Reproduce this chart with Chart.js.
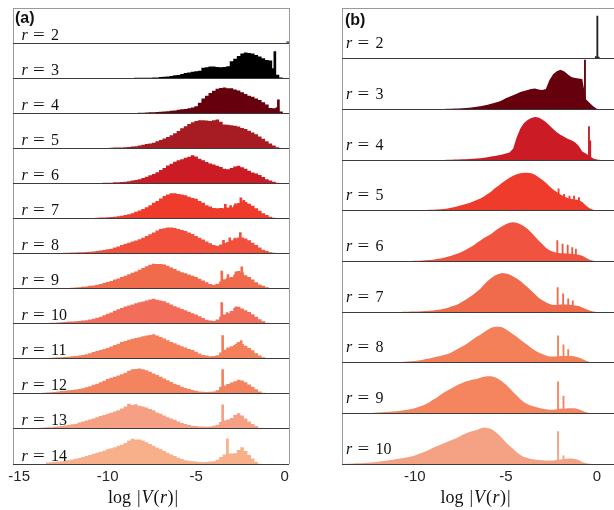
<!DOCTYPE html>
<html>
<head>
<meta charset="utf-8">
<script src="https://cdn.jsdelivr.net/npm/chart.js@4.4.1/dist/chart.umd.min.js"></script>
<style>
  html, body { margin: 0; padding: 0; background: #fff; }
  #wrap { position: relative; width: 614px; height: 510px; overflow: hidden; }
  canvas { position: absolute; top: 0; }
  #ca { left: 0; }
  #cb { left: 320px; }
</style>
</head>
<body>
<div id="wrap">
  <canvas id="ca" width="300" height="510"></canvas>
  <canvas id="cb" width="310" height="510"></canvas>
</div>
<script>
// ---------- Panel (a): histograms of log|V(r)|, bins of 0.2, heights in % of row ----------
const aRows   = [2, 3, 4, 5, 6, 7, 8, 9, 10, 11, 12, 13, 14];
const aStarts = [0, -9.0, -9.0, -10.4, -11.0, -11.2, -14.4, -13.6, -14.6, -14.6, -14.6, -14.6, -13.4];
const aTicks  = [-15, -10, -5, 0];
const aColors = ['#4a4aa8', '#000000', '#67000d', '#a61c22', '#cb1c26', '#ef3b2c', '#f0503c',
                 '#f06a4c', '#f26e5a', '#f47f5b', '#f4845f', '#f5a084', '#f8b08b'];

const aR2  = [];
const aR3  = [0,0.3,0.5,0.5,0.8,1,1,1.2,1.5,2, 2,3,4,5,6,8,9,12,15,16, 18,20,21,30,31,33,33,32,31,32,
              34,48,55,63,70,73,72,70,66,62, 57,52,50,28,10,2];
const aR4  = [0,0.3,0.5,0.7,1,1.2,1.5,2,2.5,3, 3.5,4,5,6,7,8,10,11,12,14, 16,20,30,42,50,58,64,70,72,73,
              71,71,68,65,60,55,50,47,42,38, 31,25,15,14,17,5];
const aR5  = [0,0.5,1,1,1.5,2,2,2.5,3,4, 5,6,8,10,12,14,16,20,24,28, 32,37,43,49,57,63,69,74,78,80,
              80,79,78,80,82,76,68,67,66,64, 62,58,55,50,45,40,34,27,20,14, 8,3,1];
const aR6  = [0,0.3,0.5,1,1,1.5,2,2,3,3.5, 4,5,6,8,10,12,15,19,23,27, 32,38,44,51,56,62,66,69,73,76,
              80,77,70,66,61,57,54,50,47,42, 40,44,48,50,46,42,36,31,28,24, 18,12,8,5,2,0.5];
const aR7  = [0,0.5,1,1.5,2,2.5,3,3.5,4,5, 6,8,10,12,15,19,23,27,32,38, 45,50,57,64,68,72,72,70,68,66,
              62,58,56,50,45,38,34,30,29,30, 29,31,32,38,44,48,47,42,36,29, 22,15,10,5,2,0.5];
const aR8  = [0,0.3,0.5,0.5,0.7,0.8,1,1,1.2,1.5, 1.8,2,2.5,2.8,3,3.5,4,4.5,5,6, 7,8.5,10,12,14,17,20,24,28,31,
              34,37,41,45,50,55,60,66,70,72, 74,74,73,70,67,64,60,56,50,45, 40,34,29,24,22,26,30,33,38,42,
              46,46,43,38,31,24,17,11,7,4, 2,0.5];
const aR9  = [0,0.3,0.5,0.7,1,1,1.3,1.5,2,2.5, 3,4,5,6,8,9,11,13,16,19, 22,26,29,33,37,41,45,49,54,59,
              64,68,71,70,70,69,65,60,56,51, 47,44,40,37,33,28,23,18,13,11, 14,20,27,30,33,40,50,46,38,33,
              26,18,12,8,4,1.5,0.5];
const aR10 = [0,0.3,0.5,0.7,1,1.2,1.5,2,2.5,3, 3.5,4,5,6,6.5,7,8,9,10,12, 14,17,20,24,28,32,37,41,45,49,
              52,55,58,61,63,66,69,71,68,66, 64,60,55,50,46,42,38,34,30,26, 21,16,11,9,8,12,20,26,30,36,
              45,48,43,38,33,27,20,13,7,3, 1,0.3];
const aR11 = [0,0.5,0.7,1,1.2,1.5,2,2.5,3,3.5, 4,4.5,5,6,7,8,9.5,11,13,16, 19,22,25,28,31,35,39,43,48,51,
              54,57,59,61,64,66,68,70,66,62, 58,53,48,44,40,36,32,28,25,20, 15,11,9,7,8,10,18,26,32,36,
              40,48,42,37,31,24,16,9,4,1.5, 0.5];
const aR12 = [0,0.5,1,1.5,2,2.5,3,3.5,4.5,5.5, 6.5,8,9,10,11,12.5,14,16,19,22, 26,29,33,37,42,46,49,52,56,60,
              66,70,71,72,70,67,63,58,54,49, 44,39,34,29,25,20,17,14,11,9, 7,6,5,6,7,10,20,24,28,32,
              36,40,38,33,27,20,13,7,3,1, 0.3];
const aR13 = [0,0.5,1,2,2.5,3,4,4.5,5,6, 7,8,9.5,11,13,15,18,21,24,27, 30,33,37,40,43,46,50,53,58,64,
              72,68,70,66,64,61,57,53,47,43, 38,33,30,26,21,17,14,11,9,8, 7,7,6,7,9,12,20,24,27,31,
              40,45,38,30,21,14,8,3,1];
const aR14 = [0,4,5,6,7,8,10,11,13,15, 17,20,23,26,29,32,35,38,42,45, 48,52,55,60,67,72,70,70,67,62,
              57,52,47,42,37,32,27,23,18,14, 11,9,8,7,6,5,6,7,8,12, 20,27,30,30,31,40,48,37,26,16,
              6,1];

// narrow spikes: [log|V|, height]
const aS2  = [[0.18, 4]];
const aS3  = [[-0.55, 76]];
const aS4  = [[-0.35, 38]];
const aS5  = [];
const aS6  = [];
const aS7  = [[-3.35, 40], [-3.05, 37], [-2.78, 42], [-2.47, 59], [-2.3, 52]];
const aS8  = [[-3.45, 38], [-3.1, 45], [-2.8, 44], [-2.5, 60]];
const aS9  = [[-3.55, 50], [-3.2, 40], [-2.75, 48], [-2.42, 62]];
const aS10 = [[-3.55, 60], [-3.25, 32], [-2.75, 48]];
const aS11 = [[-3.5, 66], [-2.72, 42], [-2.45, 52]];
const aS12 = [[-3.5, 69]];
const aS13 = [[-3.5, 69]];
const aS14 = [[-3.23, 72]];

// ---------- Panel (b): finer histograms, sampled every 0.2 ----------
const bRows   = [2, 3, 4, 5, 6, 7, 8, 9, 10];
const bStarts = [0, -9.0, -8.4, -10.4, -11.0, -11.0, -11.8, -13.0, -14.0];
const bTicks  = [-10, -5, 0];
const bColors = ['#222222', '#67000d', '#cb1c26', '#ef3b2c', '#f0533f', '#f06a4c', '#f38059', '#f4855f', '#f5a183'];

const bR2  = [];
const bR3  = [0,0.3,0.5,0.7,1,1.2,1.5,1.8,2.2,2.6, 3,4,5,6,7.5,9,11,13,15,18, 22,25,28,31,34,36,38,40,41,39,
              38,40,58,69,75,78,75,69,64,62, 61,60,20,13,6,1,0];
const bR4  = [0,0.3,0.5,0.8,1,1.3,1.6,2,2.5,3, 3.5,4.5,5.5,7,8,9.5,11,13,15,22, 45,62,73,79,83,85,84,80,75,68,
              61,55,50,46,42,39,35,28,17,13, 8,3,1,0];
const bR5  = [0,0.3,0.5,0.8,1,1.3,1.6,2,2.5,3, 3.5,4.5,6,7,9,11,13,15,18,21, 24,28,33,38,44,49,55,60,65,69,
              72,74,75,75,74,71,66,61,55,48, 42,37,32,28,25,23,22,21,17,10, 5,2,0.5,0];
const bR6  = [0,0.2,0.4,0.6,0.8,1,1.2,1.5,2,2.5, 3.3,4.5,5.5,7,9,11,13.5,16,19,23, 27,31,36,41,46,50,54,60,65,69,
              73,76,77,76,73,69,64,57,49,41, 34,27,22,19,17,16,16,15,15,14, 13,11,7,3,1,0];
const bR7  = [0,0.2,0.4,0.6,0.8,1,1.2,1.5,2,2.5, 3,4,5,6.5,8,11,13,16,20,24, 29,34,40,46,54,61,67,72,75,77,
              76,74,70,66,61,55,49,42,35,28, 23,19,16,14,14,15,15,15,14,13, 12,9,6,3,1,0];
const bR8  = [0,0.3,0.6,0.9,1.2,1.5,2,2.5,3,3.5, 4.5,5.5,7,8,10,11.5,13,15,17,20, 24,28,32,36,41,46,51,55,60,65,
              69,71,71,70,66,61,56,51,45,40, 35,29,24,20,17,14,12,12,12,13, 13,13,13,12,10,7,4,1.5,0.5,0];
const bR9  = [0,0.3,0.6,0.9,1.2,1.6,2,2.5,3,3.6, 4.3,5,6,7,8.5,10,12.5,15,18,22, 27,31,36,41,45,49,53,57,60,63,
              65,67,68,70,72,73,73,71,68,63, 57,50,42,35,28,22,18,15,13,11, 9,8,7,7,8,9,9,10,10,10,
              8,5,2,0.5,0];
const bR10 = [0,0.3,0.6,1,1.3,1.7,2,2.5,3,3.5, 4.5,5.5,6.5,7.5,8.5,10,11,12,13.5,15, 17,19.5,22,25,28,32,35,38,41,44,
              47,50,53,57,60,63,65,67,70,72, 71,69,64,58,51,43,36,30,23,18, 14,12,10,9,8,7.5,7,7,7,8,
              9,10,11,11,10,8,4,1.5,0.3,0];

const bS2  = [[0.03, 84], [-0.05, 4], [0.1, 3]];
const bS3  = [[-0.65, 97]];
const bS4  = [[-0.43, 66], [-0.36, 38]];
const bS5  = [[-2.1, 43], [-1.8, 32], [-1.5, 29], [-1.25, 29], [-0.98, 26]];
const bS6  = [[-2.17, 41], [-1.88, 34], [-1.6, 32], [-1.35, 27], [-1.15, 24]];
const bS7  = [[-2.15, 48], [-1.85, 36], [-1.57, 26], [-1.32, 22]];
const bS8  = [[-2.13, 53], [-1.83, 35], [-1.57, 26]];
const bS9  = [[-2.13, 62], [-1.83, 34]];
const bS10 = [[-2.13, 64], [-1.83, 16]];

const FRAME = '#9a9a9a';
const BASE  = '#3c3c3c';

// Row labels "r = n", panel tag and the axis title
const panelText = {
  id: 'panelText',
  afterDraw(chart, args, o) {
    const ctx = chart.ctx;
    ctx.save();
    ctx.fillStyle = '#111';
    ctx.textAlign = 'left';
    ctx.textBaseline = 'alphabetic';
    o.rows.forEach(r => {
      const ax = chart.scales['y' + r];
      const y = ax.bottom - o.lift;
      ctx.font = 'italic 16px "Liberation Serif", serif';
      ctx.fillText('r', o.x, y);
      ctx.font = '16px "Liberation Serif", serif';
      ctx.save();
      ctx.translate(o.x + 11.5, y);
      ctx.scale(1.3, 1);
      ctx.fillText('=', 0, 0);
      ctx.restore();
      ctx.fillText(String(r), o.x + 29.5, y);
    });
    ctx.font = 'bold 16px "Liberation Sans", Arial, sans-serif';
    ctx.fillText(o.tag, o.tagX, o.tagY);

    const parts = [['log', false, 0], ['|', false, 6], ['V', true, 1], ['(', false, 1],
                   ['r', true, 0.5], [')', false, 0.5], ['|', false, 1]];
    const fontOf = it => (it ? 'italic ' : '') + '18px "Liberation Serif", serif';
    let w = 0;
    parts.forEach(([t, it, gap]) => { ctx.font = fontOf(it); w += gap + ctx.measureText(t).width; });
    const ca = chart.chartArea;
    let x = (ca.left + ca.right) / 2 + o.titleShift - w / 2;
    parts.forEach(([t, it, gap]) => {
      ctx.font = fontOf(it);
      x += gap;
      ctx.fillText(t, x, o.titleY);
      x += ctx.measureText(t).width;
    });
    ctx.restore();
  }
};

function makePanel(canvasId, p) {
  const scales = {
    x: {
      type: 'linear', position: 'bottom', min: p.xMin, max: p.xMax, offset: false,
      border: { display: false },
      grid: {
        offset: false, drawTicks: false, lineWidth: 1, z: 1,
        color: c => (c.tick && (c.tick.value === p.xMin || c.tick.value === p.xMax)) ? FRAME : 'rgba(0,0,0,0)'
      },
      ticks: {
        autoSkip: false, maxRotation: 0, padding: 4, color: '#262626',
        font: { family: '"Liberation Sans", Arial, sans-serif', size: 15 },
        callback: v => p.ticks.includes(v) ? String(v) : ''
      },
      afterBuildTicks: ax => { ax.ticks = [p.xMin, ...p.ticks, p.xMax].map(v => ({ value: v })); },
      afterFit: ax => { ax.height = 46; }
    }
  };
  const datasets = [];
  p.rows.forEach((r, i) => {
    const id = 'y' + r;
    const isTop = i === 0;
    scales[id] = {
      type: 'linear', position: 'left', stack: 'rows', stackWeight: 1, weight: p.rows.length - i,
      min: 0, max: 100,
      ticks: { display: false },
      border: { display: false },
      grid: { offset: false, drawTicks: false, lineWidth: 1, z: 1,
              color: c => (c.tick && c.tick.value === 100) ? FRAME : BASE },
      afterBuildTicks: ax => { ax.ticks = isTop ? [{ value: 0 }, { value: 100 }] : [{ value: 0 }]; },
      afterFit: ax => { ax.width = 0; }
    };
    const vals = p.values[i];
    const color = p.colors[i];
    if (vals.length) {
      const off = p.stepped ? -p.step / 2 : 0;
      const pts = vals.map((v, k) => ({ x: p.starts[i] + k * p.step + off, y: v }));
      pts.push({ x: pts[pts.length - 1].x + p.step, y: 0 });
      datasets.push({
        type: 'line', data: pts, xAxisID: 'x', yAxisID: id,
        stepped: p.stepped ? 'after' : false, tension: 0,
        fill: 'origin', backgroundColor: color,
        borderColor: 'rgba(0,0,0,0)', borderWidth: 0, pointRadius: 0
      });
    }
    const sp = p.spikes[i];
    if (sp.length) {
      datasets.push({
        type: 'bar', data: sp.map(([x, y]) => ({ x, y })), xAxisID: 'x', yAxisID: id,
        backgroundColor: color, borderWidth: 0, barThickness: p.spikeWidth, grouped: false
      });
    }
  });

  return new Chart(document.getElementById(canvasId), {
    type: 'line',
    data: { datasets },
    options: {
      responsive: false, maintainAspectRatio: false, animation: false,
      layout: { padding: p.padding },
      scales,
      plugins: {
        legend: { display: false }, tooltip: { enabled: false },
        panelText: {
          rows: p.rows, x: p.labelX, lift: p.labelLift, tag: p.tag, tagX: p.tagX, tagY: p.tagY,
          titleShift: p.titleShift, titleY: 503
        }
      }
    },
    plugins: [panelText]
  });
}

Chart.defaults.font.family = '"Liberation Sans", Arial, sans-serif';

makePanel('ca', {
  rows: aRows, starts: aStarts, step: 0.2, stepped: true, colors: aColors,
  values: [aR2, aR3, aR4, aR5, aR6, aR7, aR8, aR9, aR10, aR11, aR12, aR13, aR14],
  spikes: [aS2, aS3, aS4, aS5, aS6, aS7, aS8, aS9, aS10, aS11, aS12, aS13, aS14],
  spikeWidth: 2, xMin: -15.35, xMax: 0.25, ticks: aTicks,
  padding: { left: 13, right: 11, top: 8, bottom: 0 },
  labelX: 21.5, labelLift: 3.5, tag: '(a)', tagX: 15, tagY: 23, titleShift: -8
});

makePanel('cb', {
  rows: bRows, starts: bStarts, step: 0.2, stepped: false, colors: bColors,
  values: [bR2, bR3, bR4, bR5, bR6, bR7, bR8, bR9, bR10],
  spikes: [bS2, bS3, bS4, bS5, bS6, bS7, bS8, bS9, bS10],
  spikeWidth: 1.2, xMin: -14, xMax: 1, ticks: bTicks,
  padding: { left: 22, right: 15, top: 8, bottom: 0 },
  labelX: 26, labelLift: 10.5, tag: '(b)', tagX: 25, tagY: 25, titleShift: -3
});
</script>
</body>
</html>
